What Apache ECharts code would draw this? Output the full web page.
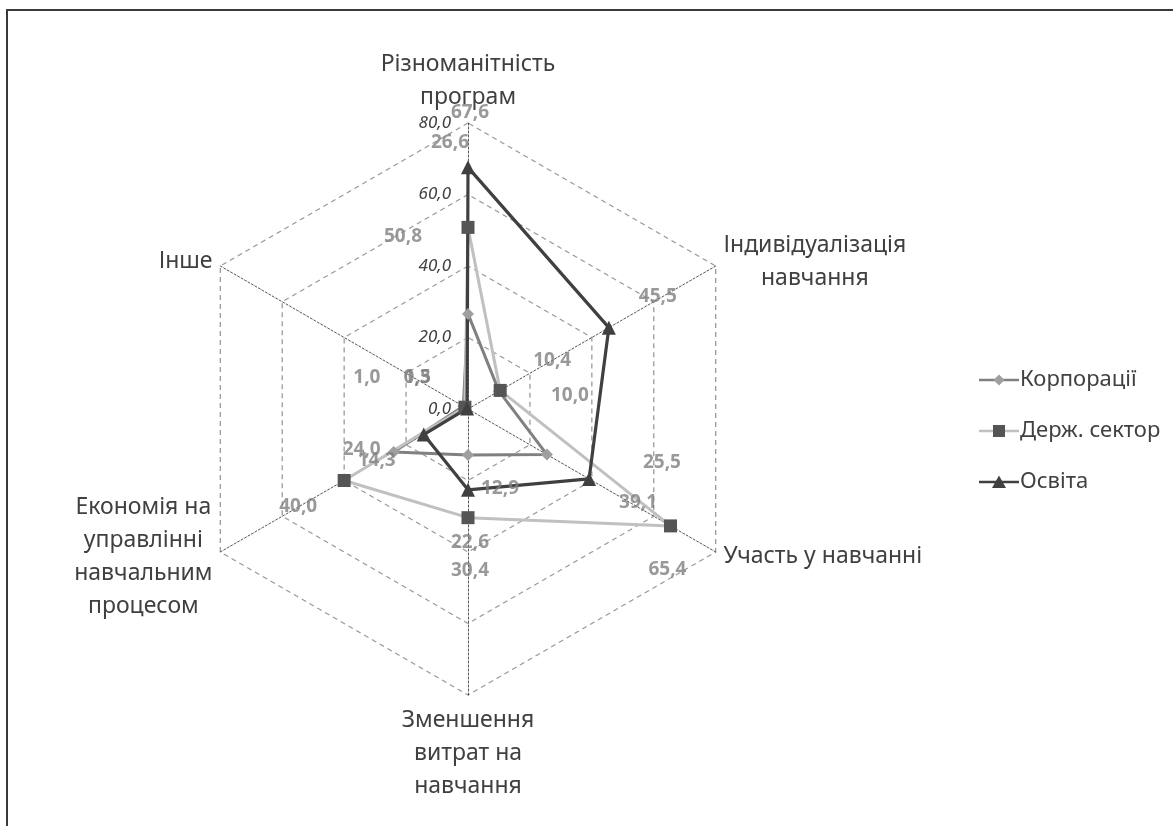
<!DOCTYPE html>
<html>
<head>
<meta charset="utf-8">
<script src="https://cdn.jsdelivr.net/npm/echarts@6/dist/echarts.min.js"></script>
<style>
  html, body { margin: 0; padding: 0; background: #ffffff; }
  #chart { width: 1173px; height: 826px; }
</style>
</head>
<body>
<div id="chart"></div>
<script>
// Categories listed clockwise from the top axis
const categories = [
  'Різноманітність\nпрограм',
  'Індивідуалізація\nнавчання',
  'Участь у навчанні',
  'Зменшення\nвитрат на\nнавчання',
  'Економія на\nуправлінні\nнавчальним\nпроцесом',
  'Інше'
];
const seriesNames = ['Корпорації', 'Держ. сектор', 'Освіта'];
const corporations = [26.6, 10.0, 25.5, 12.9, 24.0, 1.5];
const publicSector = [50.8, 10.4, 65.4, 30.4, 40.0, 1.0];
const education    = [67.6, 45.5, 39.1, 22.6, 14.3, 0.3];
const radialMin = 0;
const radialMax = 80;
const radialSplits = 4;

// Pixel offsets of each value label from its point
const corpLabelOffsets = [[-18, -171], [71, 4], [115, 8], [32, 33], [-32, -2], [-46, -29]];
const publicLabelOffsets = [[-65, 9], [52, -30], [-3, 44], [2, 53], [-46, 26], [-98, -30]];
const eduLabelOffsets = [[2, -55], [49, -31], [49, 24], [2, 53], [-47, 26], [-50, -31]];

const FONT = 'Noto Sans';
const CENTER = [468, 409];
const RADIUS = 286;

// ECharts radar goes counter-clockwise; map the clockwise order onto it
const radarOrder = [0, 5, 4, 3, 2, 1];
const toRadar = arr => radarOrder.map(k => arr[k]);
const fmt = v => v.toFixed(1).replace('.', ',');

const styles = [
  { symbol: 'diamond', symbolSize: 12, marker: '#9f9f9f', line: '#808080', width: 3 },
  { symbol: 'rect', symbolSize: 13, marker: '#555555', line: '#c0c0c0', width: 3 },
  { symbol: 'triangle', symbolSize: 14, marker: '#404040', line: '#404040', width: 3.2 }
];
const valueSets = [corporations, publicSector, education];
const offsetSets = [corpLabelOffsets, publicLabelOffsets, eduLabelOffsets];

// Legend glyphs drawn in a 40 x 14 box: a short line and the marker in the middle
const ANCHORS = 'M0,0 L0,0 M40,14 L40,14 ';
const legendLinePath = 'path://M0,5.8 L40,5.8 L40,8.4 L0,8.4 Z';
const legendMarkerPaths = [
  'path://' + ANCHORS + 'M20,1.5 L25.5,7 L20,12.5 L14.5,7 Z',
  'path://' + ANCHORS + 'M14,1 L26,1 L26,13 L14,13 Z',
  'path://' + ANCHORS + 'M20,0.5 L27,13 L13,13 Z'
];

// Tick labels shown only along the top axis
const tickLabelStyle = {
  show: true,
  formatter: v => fmt(v),
  color: '#404040',
  fontFamily: FONT,
  fontStyle: 'italic',
  fontSize: 17,
  margin: 17
};

const chart = echarts.init(document.getElementById('chart'), null, { renderer: 'canvas' });

const labelSeries = valueSets.map((vals, s) => ({
  type: 'scatter',
  coordinateSystem: 'polar',
  z: 10,
  silent: true,
  symbolSize: 1,
  itemStyle: { color: 'rgba(0,0,0,0)' },
  data: vals.map((v, i) => ({
    value: [v, i],
    label: { offset: offsetSets[s][i] }
  })),
  label: {
    show: true,
    position: 'inside',
    formatter: p => fmt(p.value[0]),
    color: '#7f7f7f',
    fontFamily: FONT,
    fontWeight: 'bold',
    fontSize: 19
  }
}));

const legendBase = {
  orient: 'vertical',
  left: 974,
  top: 364,
  itemGap: 29,
  itemWidth: 40,
  itemHeight: 14,
  selectedMode: false
};

chart.setOption({
  animation: false,
  backgroundColor: '#ffffff',
  graphic: [{
    type: 'rect',
    shape: { x: 7, y: 10, width: 1400, height: 1000 },
    style: { fill: 'none', stroke: '#3a3a3a', lineWidth: 2 },
    silent: true
  }],
  legend: [
    Object.assign({}, legendBase, {
      textStyle: { fontSize: 22, color: '#404040', fontFamily: FONT, padding: [0, 0, 0, -4] },
      data: seriesNames.map((n, s) => ({
        name: n, icon: legendLinePath, itemStyle: { color: styles[s].line }
      }))
    }),
    Object.assign({}, legendBase, {
      textStyle: { fontSize: 22, color: 'rgba(0,0,0,0)', fontFamily: FONT, padding: [0, 0, 0, -4] },
      data: seriesNames.map((n, s) => ({
        name: n, icon: legendMarkerPaths[s], itemStyle: { color: styles[s].marker }
      }))
    })
  ],
  polar: { center: CENTER, radius: RADIUS },
  angleAxis: {
    type: 'category',
    data: categories,
    startAngle: 120,
    clockwise: true,
    show: false
  },
  radiusAxis: { type: 'value', min: radialMin, max: radialMax, show: false },
  radar: {
    center: CENTER,
    radius: RADIUS,
    startAngle: 90,
    splitNumber: radialSplits,
    shape: 'polygon',
    nameGap: 9,
    indicator: radarOrder.map((k, j) => Object.assign(
      { name: categories[k], min: radialMin, max: radialMax },
      j === 0 ? { axisLabel: tickLabelStyle } : {}
    )),
    axisName: {
      color: '#404040',
      fontFamily: FONT,
      fontSize: 23,
      lineHeight: 33,
      formatter: name => name.split('\n').map(s => '{c|' + s + '}').join('\n'),
      rich: { c: { align: 'center', fontFamily: FONT, fontSize: 23, lineHeight: 33, color: '#404040' } }
    },
    axisLine: { lineStyle: { color: '#555555', type: [2, 2], width: 1 } },
    splitLine: { lineStyle: { color: '#9a9a9a', type: [5, 4], width: 1.3 } },
    splitArea: { show: false },
    axisTick: { show: false },
    axisLabel: { show: false }
  },
  series: [{
    type: 'radar',
    z: 3,
    data: valueSets.map((vals, s) => ({
      name: seriesNames[s],
      value: toRadar(vals),
      symbol: styles[s].symbol,
      symbolSize: styles[s].symbolSize,
      itemStyle: { color: styles[s].marker },
      lineStyle: { color: styles[s].line, width: styles[s].width }
    }))
  }].concat(labelSeries)
});
</script>
</body>
</html>
